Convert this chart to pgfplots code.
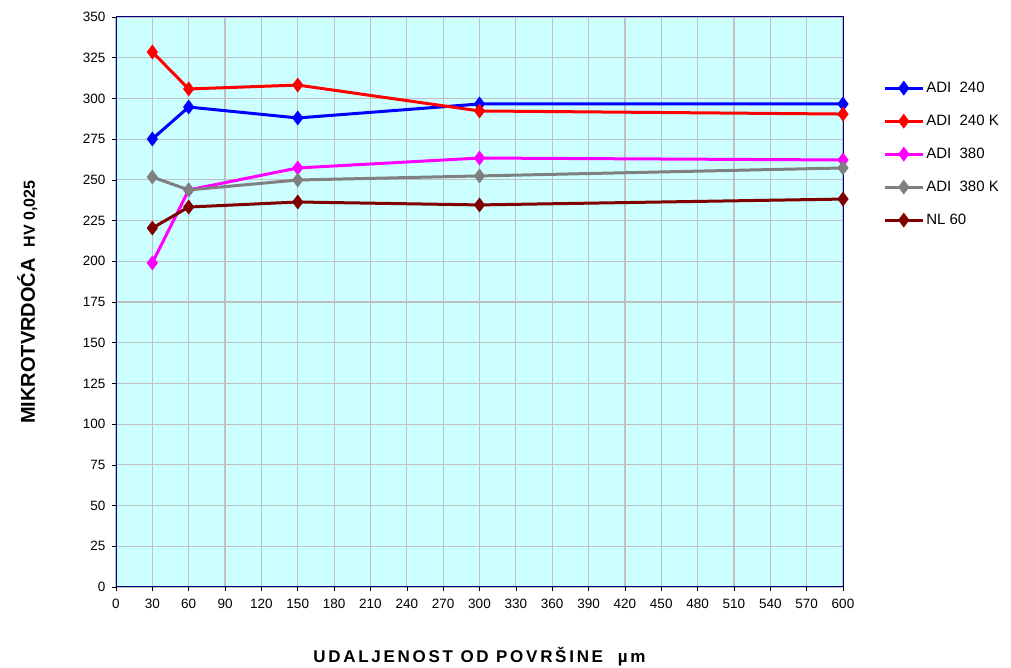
\documentclass[border=0pt]{standalone}
\usepackage{fontspec}
\setmainfont{Liberation Sans}
\usepackage{pgfplots}
\pgfplotsset{compat=1.18}
\definecolor{bgc}{RGB}{204,255,255}
\definecolor{gridc}{RGB}{192,192,192}
\definecolor{navyc}{RGB}{0,0,128}
\definecolor{nlc}{RGB}{128,0,0}
\definecolor{grayc}{RGB}{128,128,128}
\definecolor{bluec}{RGB}{0,0,255}
\definecolor{redc}{RGB}{255,0,0}
\definecolor{magc}{RGB}{255,0,255}
\begin{document}
\begin{tikzpicture}[x=1pt,y=1pt]
\path[use as bounding box] (0,0) rectangle (1011,668);
\begin{axis}[
  at={(116pt,81pt)}, anchor=south west,
  scale only axis, width=727pt, height=570pt,
  xmin=0, xmax=600, ymin=0, ymax=350,
  xtick distance=30, ytick distance=25,
  grid=major, major grid style={gridc, line width=1.2pt},
  axis background/.style={fill=bgc},
  axis line style={navyc, line width=1pt},
  tick style={black, line width=0.6pt}, tick align=outside, major tick length=4pt,
  xtick pos=bottom, ytick pos=left,
  ticklabel style={font=\fontsize{13.5}{15}\selectfont},
  xticklabel style={yshift=-5pt},
  yticklabel style={xshift=-3pt},
  /pgf/number format/assume math mode=true,
  /pgf/number format/1000 sep={},
  every axis y label/.style={at={(axis description cs:-0.122,0.5)}, rotate=90, anchor=center},
  every axis x label/.style={at={(axis description cs:0.5,-0.123)}, anchor=center},
  ylabel={\bfseries\fontsize{20}{22}\selectfont MIKROTVRDOĆA\ \ {\fontsize{16}{18}\selectfont HV 0,025}},
  xlabel={\bfseries\fontsize{17}{19}\selectfont\addfontfeatures{LetterSpace=16}UDALJENOST OD POVRŠINE\ \ µm},
  legend style={draw=none, fill=none, at={(axis description cs:1.051,0.893)}, anchor=north west,
    font=\fontsize{15}{17}\selectfont, row sep=17pt, cells={anchor=west}},
  legend image code/.code={
    \draw[#1] (0pt,0pt) -- (38pt,0pt);
    \draw[#1, only marks] plot coordinates {(19pt,0pt)};
  },
  every axis plot/.append style={line width=3pt, mark=diamond*, mark size=5pt, mark options={solid, line width=0.5pt}},
]
\addplot[bluec, mark options={fill=bluec}] coordinates {(30,275.1) (60,294.7) (150,288.0) (300,296.6) (600,296.6)};
\addlegendentry{ADI\ \ 240}
\addplot[redc, mark options={fill=redc}] coordinates {(30,328.5) (60,305.8) (150,308.2) (300,292.3) (600,290.4)};
\addlegendentry{ADI\ \ 240 K}
\addplot[magc, mark options={fill=magc}] coordinates {(30,199.0) (60,243.8) (150,257.3) (300,263.4) (600,262.2)};
\addlegendentry{ADI\ \ 380}
\addplot[grayc, mark options={fill=grayc}] coordinates {(30,251.7) (60,243.8) (150,249.9) (300,252.4) (600,257.3)};
\addlegendentry{ADI\ \ 380 K}
\addplot[nlc, mark options={fill=nlc}] coordinates {(30,220.4) (60,233.3) (150,236.4) (300,234.6) (600,238.2)};
\addlegendentry{NL 60}
\end{axis}
\end{tikzpicture}
\end{document}
